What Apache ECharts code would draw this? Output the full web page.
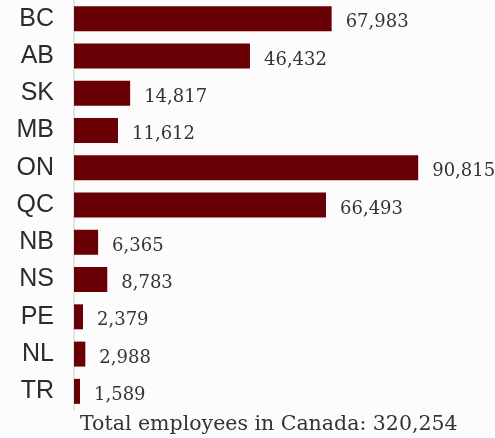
<!DOCTYPE html>
<html>
<head>
<meta charset="utf-8">
<script src="https://cdn.jsdelivr.net/npm/echarts@6/dist/echarts.min.js"></script>
<style>
html,body{margin:0;padding:0;background:#fcfcfc;}
#c{width:495px;height:438px;}
</style>
</head>
<body>
<div id="c"></div>
<script>
const categories = ["BC","AB","SK","MB","ON","QC","NB","NS","PE","NL","TR"];
const employees = [67983,46432,14817,11612,90815,66493,6365,8783,2379,2988,1589];
const totalText = "Total employees in Canada: 320,254";

const chart = echarts.init(document.getElementById('c'));
chart.setOption({
  backgroundColor: '#fcfcfc',
  animation: false,
  grid: {left: 74, right: 42, top: 0, height: 410},
  title: {
    text: totalText,
    left: 75, top: 409,
    textStyle: {fontFamily: 'DejaVu Serif', fontSize: 20.5, fontWeight: 'normal', color: '#333'}
  },
  xAxis: {type: 'value', min: 0, max: 100000, show: false},
  yAxis: {
    type: 'category', data: categories, inverse: true,
    axisLine: {show: true, lineStyle: {color: '#e3e3e3', width: 2}},
    axisTick: {show: false},
    axisLabel: {fontFamily: 'Liberation Sans', fontSize: 25, color: '#2b2b2b', margin: 20}
  },
  series: [{
    type: 'bar', data: employees, barWidth: 25,
    itemStyle: {color: '#690006'},
    label: {
      show: true, position: 'right', distance: 14, offset: [0, 4],
      fontFamily: 'DejaVu Serif', fontSize: 18, color: '#333',
      formatter: p => p.value.toLocaleString('en-US')
    }
  }]
});
</script>
</body>
</html>
